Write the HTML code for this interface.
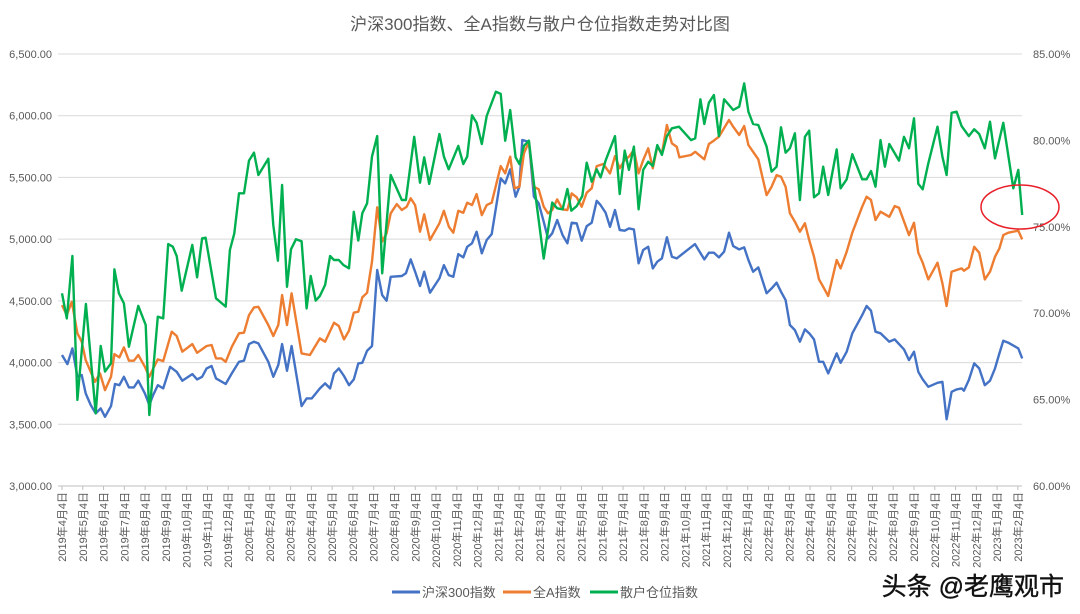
<!DOCTYPE html>
<html><head><meta charset="utf-8">
<style>
html,body{margin:0;padding:0;background:#fff;}
body{width:1080px;height:609px;overflow:hidden;font-family:"Liberation Sans","Noto Sans CJK SC",sans-serif;}
svg text{font-family:"Liberation Sans","Noto Sans CJK SC",sans-serif;}
</style></head>
<body>
<svg id="chart" width="1080" height="609" xmlns="http://www.w3.org/2000/svg">
<rect x="0" y="0" width="1080" height="609" fill="#fff"/>
<text x="540" y="30" text-anchor="middle" font-size="17" fill="#595959">沪深300指数、全A指数与散户仓位指数走势对比图</text>
<g id="grid"></g>
<g id="yleft"></g>
<g id="yright"></g>
<g id="xaxis"></g>
<g id="series"></g>
<ellipse cx="1020" cy="207" rx="39" ry="22" fill="none" stroke="#e8202a" stroke-width="1.5"/>
<g>
<g><line x1="392" y1="592" x2="420" y2="592" stroke="#4472c4" stroke-width="3"/><text x="422" y="597" font-size="13" fill="#595959">沪深300指数</text></g>
<g><line x1="503" y1="592" x2="531" y2="592" stroke="#ed7d31" stroke-width="3"/><text x="533" y="597" font-size="13" fill="#595959">全A指数</text></g>
<g><line x1="590" y1="592" x2="618" y2="592" stroke="#00b050" stroke-width="3"/><text x="620" y="597" font-size="13" fill="#595959">散户仓位指数</text></g>
</g>
<text x="1064" y="595" text-anchor="end" font-size="25" fill="#111" stroke="#111" stroke-width="0.4">头条 @老鹰观市</text>
</svg>
<script>
const leftTicks=[3000,3500,4000,4500,5000,5500,6000,6500];
const leftTickLabels=["3,000.00","3,500.00","4,000.00","4,500.00","5,000.00","5,500.00","6,000.00","6,500.00"];
const rightTicks=[60,65,70,75,80,85];
const rightTickLabels=["60.00%","65.00%","70.00%","75.00%","80.00%","85.00%"];
const monthLabels=["2019年4月4日","2019年5月4日","2019年6月4日","2019年7月4日","2019年8月4日","2019年9月4日","2019年10月4日","2019年11月4日","2019年12月4日","2020年1月4日","2020年2月4日","2020年3月4日","2020年4月4日","2020年5月4日","2020年6月4日","2020年7月4日","2020年8月4日","2020年9月4日","2020年10月4日","2020年11月4日","2020年12月4日","2021年1月4日","2021年2月4日","2021年3月4日","2021年4月4日","2021年5月4日","2021年6月4日","2021年7月4日","2021年8月4日","2021年9月4日","2021年10月4日","2021年11月4日","2021年12月4日","2022年1月4日","2022年2月4日","2022年3月4日","2022年4月4日","2022年5月4日","2022年6月4日","2022年7月4日","2022年8月4日","2022年9月4日","2022年10月4日","2022年11月4日","2022年12月4日","2023年1月4日","2023年2月4日"];

const hsT=[0,0.26,0.5,0.74,0.95,1.14,1.38,1.62,1.86,2.07,2.36,2.55,2.76,2.98,3.22,3.46,3.67,3.99,4.2,4.39,4.61,4.87,5.2,5.52,5.79,6.27,6.5,6.74,6.96,7.2,7.41,7.88,8.17,8.52,8.76,9,9.24,9.45,9.93,10.17,10.41,10.59,10.83,11.05,11.53,11.77,12.02,12.41,12.66,12.9,13.09,13.32,13.57,13.81,14.04,14.26,14.45,14.68,14.92,15.17,15.41,15.62,15.82,16.35,16.55,16.78,16.99,17.23,17.43,17.71,18.16,18.38,18.61,18.83,19.07,19.31,19.5,19.73,19.95,20.2,20.44,20.68,21.11,21.33,21.57,21.83,22.01,22.15,22.47,22.71,22.94,23.18,23.39,23.59,23.83,24.09,24.32,24.53,24.77,25.01,25.25,25.49,25.73,25.92,26.16,26.37,26.61,26.84,27.08,27.28,27.52,27.75,27.97,28.21,28.43,28.65,28.87,29.11,29.35,29.58,30.46,30.91,31.13,31.37,31.61,31.86,32.1,32.3,32.59,32.83,33.03,33.26,33.51,33.91,34.15,34.39,34.6,34.82,35.03,35.27,35.51,35.75,35.96,36.19,36.43,36.63,36.87,37.28,37.47,37.76,38.03,38.51,38.72,38.93,39.15,39.39,39.81,40.07,40.28,40.52,40.76,41,41.21,41.42,41.69,42.13,42.37,42.57,42.81,43.05,43.29,43.4,43.64,43.9,44.14,44.41,44.66,44.9,45.11,45.3,45.54,46.02,46.21];
const hsV=[4061,3988,4115,3885,3899,3750,3656,3588,3629,3561,3647,3826,3817,3885,3799,3799,3853,3750,3656,3737,3817,3791,3966,3925,3853,3907,3864,3885,3953,3972,3872,3826,3912,4006,4015,4150,4169,4155,4006,3885,3980,4150,3933,4134,3647,3710,3710,3791,3831,3791,3912,3953,3891,3817,3864,3993,3998,4096,4134,4750,4547,4501,4695,4701,4723,4836,4736,4620,4736,4566,4682,4790,4709,4695,4879,4852,4938,4966,5060,4885,4993,5041,5493,5452,5566,5344,5425,5803,5789,5344,5290,5141,5006,5047,5155,5033,4966,5133,5128,4987,5106,5133,5311,5276,5214,5100,5236,5074,5068,5087,5079,4804,4912,4938,4763,4817,4844,5015,4858,4844,4960,4836,4890,4890,4852,4898,5052,4944,4917,4933,4831,4736,4771,4561,4601,4647,4574,4506,4304,4263,4169,4269,4237,4188,4006,4006,3912,4074,3998,4088,4237,4385,4458,4420,4250,4237,4169,4188,4150,4107,4020,4088,3925,3864,3804,3836,3844,3540,3763,3783,3791,3772,3858,3993,3953,3817,3853,3953,4074,4177,4161,4115,4034];

const allAT=[0,0.23,0.47,0.74,0.95,1.14,1.59,1.83,2.07,2.36,2.52,2.76,2.98,3.22,3.46,3.67,3.99,4.2,4.39,4.61,4.87,5.28,5.52,5.79,6.27,6.5,6.96,7.2,7.41,7.67,7.88,8.17,8.52,8.76,9,9.24,9.45,9.93,10.17,10.41,10.59,10.83,11.05,11.53,11.93,12.41,12.66,13.09,13.32,13.57,13.81,14.04,14.26,14.45,14.68,14.92,15.17,15.41,15.62,15.82,16.11,16.35,16.59,16.78,16.99,17.23,17.43,17.71,18.16,18.38,18.62,18.83,19.07,19.31,19.5,19.73,19.95,20.2,20.44,20.68,21.11,21.33,21.57,21.78,22.01,22.23,22.47,22.71,22.94,23.18,23.39,23.59,23.83,24.09,24.32,24.53,24.77,25.01,25.25,25.49,25.73,26.05,26.37,26.61,26.84,27.08,27.28,27.52,27.75,27.97,28.21,28.43,28.65,28.87,29.11,29.35,29.58,29.71,30.27,30.47,30.91,31.13,31.37,31.61,32.1,32.3,32.59,32.83,33.03,33.26,33.51,33.91,34.15,34.39,34.6,34.82,35.03,35.27,35.51,35.75,35.96,36.19,36.43,36.63,36.87,37.28,37.47,37.76,38.03,38.51,38.72,38.93,39.15,39.39,39.81,40.07,40.28,40.76,41,41.21,41.42,41.69,42.13,42.37,42.57,42.81,43.05,43.29,43.4,43.64,43.9,44.14,44.41,44.66,44.9,45.11,45.3,45.54,46.02,46.21];
const allAV=[4466,4385,4493,4237,4169,4020,3844,3912,3777,3885,4069,4042,4123,4015,4015,4061,3966,3885,3953,4026,4012,4250,4215,4088,4150,4079,4134,4142,4034,4034,4006,4128,4237,4242,4385,4447,4452,4304,4215,4304,4547,4304,4561,4074,4061,4196,4169,4323,4296,4188,4258,4404,4412,4528,4566,4817,5258,4979,5047,5209,5284,5236,5263,5331,5276,5060,5201,4993,5128,5230,5100,5052,5230,5214,5295,5276,5365,5195,5276,5295,5592,5533,5668,5412,5425,5695,5789,5425,5404,5263,5209,5236,5322,5241,5236,5371,5339,5263,5376,5412,5592,5609,5533,5673,5574,5641,5668,5722,5533,5641,5736,5574,5749,5695,5925,5776,5749,5663,5682,5708,5647,5771,5798,5830,5965,5911,5844,5917,5763,5708,5647,5357,5425,5519,5506,5425,5209,5141,5060,5128,4993,4858,4674,4614,4539,4831,4763,4898,5052,5263,5344,5317,5155,5222,5181,5268,5254,5033,5133,4890,4809,4674,4809,4642,4458,4736,4750,4763,4744,4771,4938,4890,4674,4736,4858,4925,5033,5052,5068,4998];

const retailT=[0,0.23,0.5,0.74,1.15,1.62,1.86,2.07,2.36,2.52,2.74,2.98,3.22,3.67,4.03,4.2,4.61,4.87,5.11,5.33,5.52,5.76,6.27,6.5,6.74,6.91,7.41,7.88,8.08,8.29,8.52,8.76,9,9.24,9.45,9.93,10.17,10.39,10.59,10.83,11.02,11.26,11.53,11.77,11.97,12.21,12.41,12.66,12.9,13.09,13.32,13.54,13.81,14.04,14.26,14.45,14.68,14.92,15.17,15.41,15.82,16.35,16.55,16.95,17.23,17.43,17.67,18.16,18.38,18.61,19.07,19.31,19.5,19.73,19.95,20.2,20.44,20.88,21.11,21.33,21.57,21.83,22.01,22.23,22.47,22.71,23.18,23.59,23.83,24.09,24.32,24.51,24.77,25.04,25.25,25.49,25.73,25.92,26.16,26.61,26.84,27.08,27.28,27.52,27.75,27.97,28.21,28.43,28.65,28.87,29.11,29.35,29.69,30.27,30.47,30.72,30.91,31.13,31.37,31.61,31.86,32.1,32.3,32.59,32.83,33.03,33.26,33.51,33.91,34.15,34.39,34.6,34.82,35.03,35.27,35.51,35.75,35.96,36.19,36.43,36.63,36.87,37.28,37.47,37.76,38.03,38.51,38.72,38.93,39.15,39.39,39.6,39.81,40.28,40.52,40.76,41,41.21,41.42,41.69,42.13,42.37,42.57,42.81,43.05,43.29,43.64,43.9,44.14,44.41,44.66,44.9,45.3,45.78,46.02,46.21];
const retailV=[71.15,69.7,73.31,64.98,70.53,64.21,68.1,66.62,67.1,72.54,71.15,70.57,68.06,70.42,69.32,64.11,69.8,69.7,74,73.85,73.31,71.3,73.95,72.08,74.33,74.37,70.86,70.38,73.66,74.62,76.94,76.94,78.83,79.29,78,78.94,75.1,73.04,77.42,71.53,73.7,74.28,74.16,70.28,72.15,70.73,71,71.63,73.31,73.08,73.08,72.79,72.6,75.87,74.2,75.78,76.36,79.06,80.25,72.31,78,76.55,76.55,80.21,77.55,79.02,77.48,80.37,79.06,78.33,79.68,78.63,79.06,81.45,81.02,79.79,81.41,82.82,82.69,79.98,81.76,79.02,78.63,79.68,79.98,77.52,73.16,76.4,76.07,76.01,77.19,75.93,76.2,76.78,78.71,77.61,78.33,77.86,78.83,80.25,76.9,79.41,78.29,79.64,76.01,78.29,78.77,78.52,79.73,79.16,80.25,80.7,80.79,80.02,80.12,82.38,80.95,82.18,82.63,80.25,82.38,82.05,81.76,81.95,83.3,81.66,80.95,80.89,79.64,78.19,78.48,80.76,79.29,79.54,80.41,76.55,80.21,80.56,76.71,76.94,78.48,76.84,79.48,77.23,77.75,79.2,77.75,77.75,78.23,77.32,80.02,78.48,79.79,78.83,80.21,79.54,81.28,77.48,77.17,78.67,80.79,79.06,78,81.6,81.66,80.83,80.25,80.64,80.37,79.54,81.08,78.96,81.02,77.23,78.29,75.68];

const NS="http://www.w3.org/2000/svg";
const X0=62,MONTH_W=20.78,YTOP=54,YBOT=486;
function xs(m){return X0+m*MONTH_W;}
function yL(v){return YBOT-(v-3000)/(6500-3000)*(YBOT-YTOP);}
function yR(v){return YBOT-(v-60)/(85-60)*(YBOT-YTOP);}
function mk(tag,parent){const e=document.createElementNS(NS,tag);parent.appendChild(e);return e;}
const grid=document.getElementById('grid'),yl=document.getElementById('yleft'),yr=document.getElementById('yright'),xa=document.getElementById('xaxis'),sg=document.getElementById('series');
leftTicks.forEach((v,i)=>{
  const y=yL(v);
  const l=mk('line',grid);
  
  
  l.setAttribute('x1',58);l.setAttribute('x2',1022);l.setAttribute('y1',y);l.setAttribute('y2',y);
  l.setAttribute('stroke',i===0?'#bfbfbf':'#d9d9d9');l.setAttribute('stroke-width',1);
  const t=mk('text',yl);
  
  
  t.setAttribute('x',52);t.setAttribute('y',y+4);t.setAttribute('text-anchor','end');t.setAttribute('font-size',11);t.setAttribute('fill','#595959');
  t.textContent=leftTickLabels[i];
});
rightTicks.forEach((v,i)=>{
  const t=mk('text',yr);
  
  
  t.setAttribute('x',1033);t.setAttribute('y',yR(v)+4);t.setAttribute('font-size',11);t.setAttribute('fill','#595959');
  t.textContent=rightTickLabels[i];
});
monthLabels.forEach((s,i)=>{
  const x=xs(i);
  const tk=mk('line',xa);
  
  
  tk.setAttribute('x1',x);tk.setAttribute('x2',x);tk.setAttribute('y1',486);tk.setAttribute('y2',490);tk.setAttribute('stroke','#bfbfbf');
  const t=mk('text',xa);
  
  
  t.setAttribute('transform','translate('+(x+4)+',492) rotate(-90)');
  t.setAttribute('text-anchor','end');t.setAttribute('font-size',11);t.setAttribute('fill','#595959');
  t.textContent=s;
});
function drawLine(T,V,yf,color,name){
  const p=mk('polyline',sg);
  
  
  p.setAttribute('points',T.map((m,i)=>xs(m).toFixed(1)+','+yf(V[i]).toFixed(1)).join(' '));
  p.setAttribute('fill','none');p.setAttribute('stroke',color);p.setAttribute('stroke-width',2.4);p.setAttribute('stroke-linejoin','round');
}
drawLine(hsT,hsV,yL,'#4472c4','line-hs300');
drawLine(allAT,allAV,yL,'#ed7d31','line-all-a');
drawLine(retailT,retailV,yR,'#00b050','line-retail-position');
</script>
</body></html>
